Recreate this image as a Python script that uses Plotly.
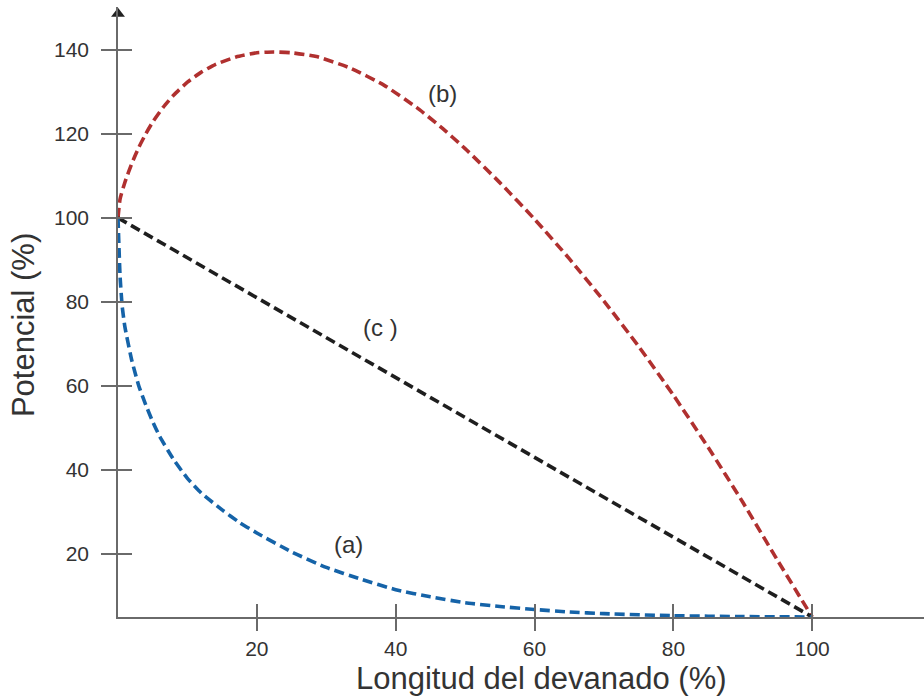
import plotly.graph_objects as go

# ---- data ----
x_a = [0, 0.3, 0.6, 1, 2, 3, 4, 5, 6, 8, 10, 12, 15, 17.5, 20, 25, 30, 35, 40, 45, 50, 55, 60, 65, 70, 80, 90, 100]
y_a = [100, 86, 79, 74, 66, 60, 55.5, 51.5, 48, 42.5, 38, 34.5, 30.5, 27.5, 25, 20.5, 16.8, 14, 11.5, 9.8, 8.4, 7.5, 6.8, 6.2, 5.8, 5.3, 5.1, 5.0]

x_b = [0, 0.3, 1, 2, 3, 4, 5, 6.5, 8, 10, 12, 14, 17, 20, 22.4, 25, 28.6, 33.4, 38.3, 43, 46.4, 50, 55, 60, 65, 70, 75, 80, 85, 90, 95, 100]
y_b = [100, 104.5, 108.5, 113, 116.8, 120, 122.8, 126.3, 129.2, 132.3, 134.7, 136.5, 138.3, 139.3, 139.5, 139.3, 138.4, 135.7, 131.6, 126.3, 121.8, 116.5, 108.4, 99.7, 90.3, 80.2, 69.4, 57.8, 45.4, 32.3, 18.5, 5]

x_c = [0, 100]
y_c = [100, 5]

x_ticks = [20, 40, 60, 80, 100]
y_ticks = [20, 40, 60, 80, 100, 120, 140]

labels = ["(a)", "(b)", "(c )"]
label_x = [33.2, 46.7, 37.8]
label_y = [22.3, 129.6, 73.9]

x_title = "Longitud del devanado (%)"
y_title = "Potencial (%)"

# ---- styling ----
FONT = "Liberation Sans, Arial, sans-serif"
AXC = "#6a6a6a"
TXT = "#333333"
XR = [0, 116.1]
YR = [5, 150.2]

fig = go.Figure()

fig.add_trace(go.Scatter(x=x_b, y=y_b, mode="lines", line=dict(color="#b0302f", width=3.6, dash="10px,5px", shape="spline", smoothing=0.5), hoverinfo="skip", cliponaxis=False))
fig.add_trace(go.Scatter(x=x_c, y=y_c, mode="lines", line=dict(color="#1e1e1e", width=3.6, dash="10px,5px"), hoverinfo="skip", cliponaxis=False))
fig.add_trace(go.Scatter(x=x_a, y=y_a, mode="lines", line=dict(color="#1563a8", width=3.6, dash="10px,5px", shape="spline", smoothing=0.5), hoverinfo="skip", cliponaxis=False))

# arrow heads at axis ends
fig.add_trace(go.Scatter(x=[0], y=[YR[1] - 1.6], mode="markers", marker=dict(symbol="triangle-up", size=12, color="#222222"), hoverinfo="skip", cliponaxis=False))
fig.add_trace(go.Scatter(x=[XR[1] + 0.45], y=[5], mode="markers", marker=dict(symbol="triangle-right", size=12, color="#222222"), hoverinfo="skip", cliponaxis=False))

# invisible trace to activate the overlay axes (for crossing ticks)
fig.add_trace(go.Scatter(x=[None], y=[None], xaxis="x2", yaxis="y2", hoverinfo="skip", showlegend=False))

for txt, lx, ly in zip(labels, label_x, label_y):
    fig.add_annotation(x=lx, y=ly, text=txt, showarrow=False, font=dict(family=FONT, size=24, color=TXT))

fig.add_annotation(x=61.0, xref="x", y=-0.101, yref="paper", text=x_title, showarrow=False,
                   font=dict(family=FONT, size=31, color=TXT), yanchor="middle")
fig.add_annotation(x=-0.117, xref="paper", y=0.478, yref="paper", text=y_title, showarrow=False,
                   textangle=-90, font=dict(family=FONT, size=31, color=TXT), xanchor="center", yanchor="middle")

common = dict(showgrid=False, zeroline=False, showline=True, linecolor=AXC, linewidth=1.5,
              tickcolor=AXC, tickwidth=1.5, tickfont=dict(family=FONT, size=21, color=TXT))

fig.update_layout(
    width=924, height=697,
    margin=dict(l=118, r=0, t=7, b=80),
    paper_bgcolor="white", plot_bgcolor="white",
    showlegend=False,
    xaxis=dict(range=XR, tickmode="array", tickvals=x_ticks, ticks="outside", ticklen=12, **common),
    yaxis=dict(range=YR, tickmode="array", tickvals=y_ticks, ticks="outside", ticklen=15, ticklabelstandoff=8, **common),
    xaxis2=dict(range=XR, overlaying="x", side="bottom", tickmode="array", tickvals=x_ticks, ticks="inside", ticklen=13,
                showticklabels=False, showgrid=False, zeroline=False, showline=False, tickcolor=AXC, tickwidth=1.5),
    yaxis2=dict(range=YR, overlaying="y", side="left", tickmode="array", tickvals=y_ticks, ticks="inside", ticklen=14,
                showticklabels=False, showgrid=False, zeroline=False, showline=False, tickcolor=AXC, tickwidth=1.5),
)

fig.write_html("out.html", config={"displayModeBar": False})
